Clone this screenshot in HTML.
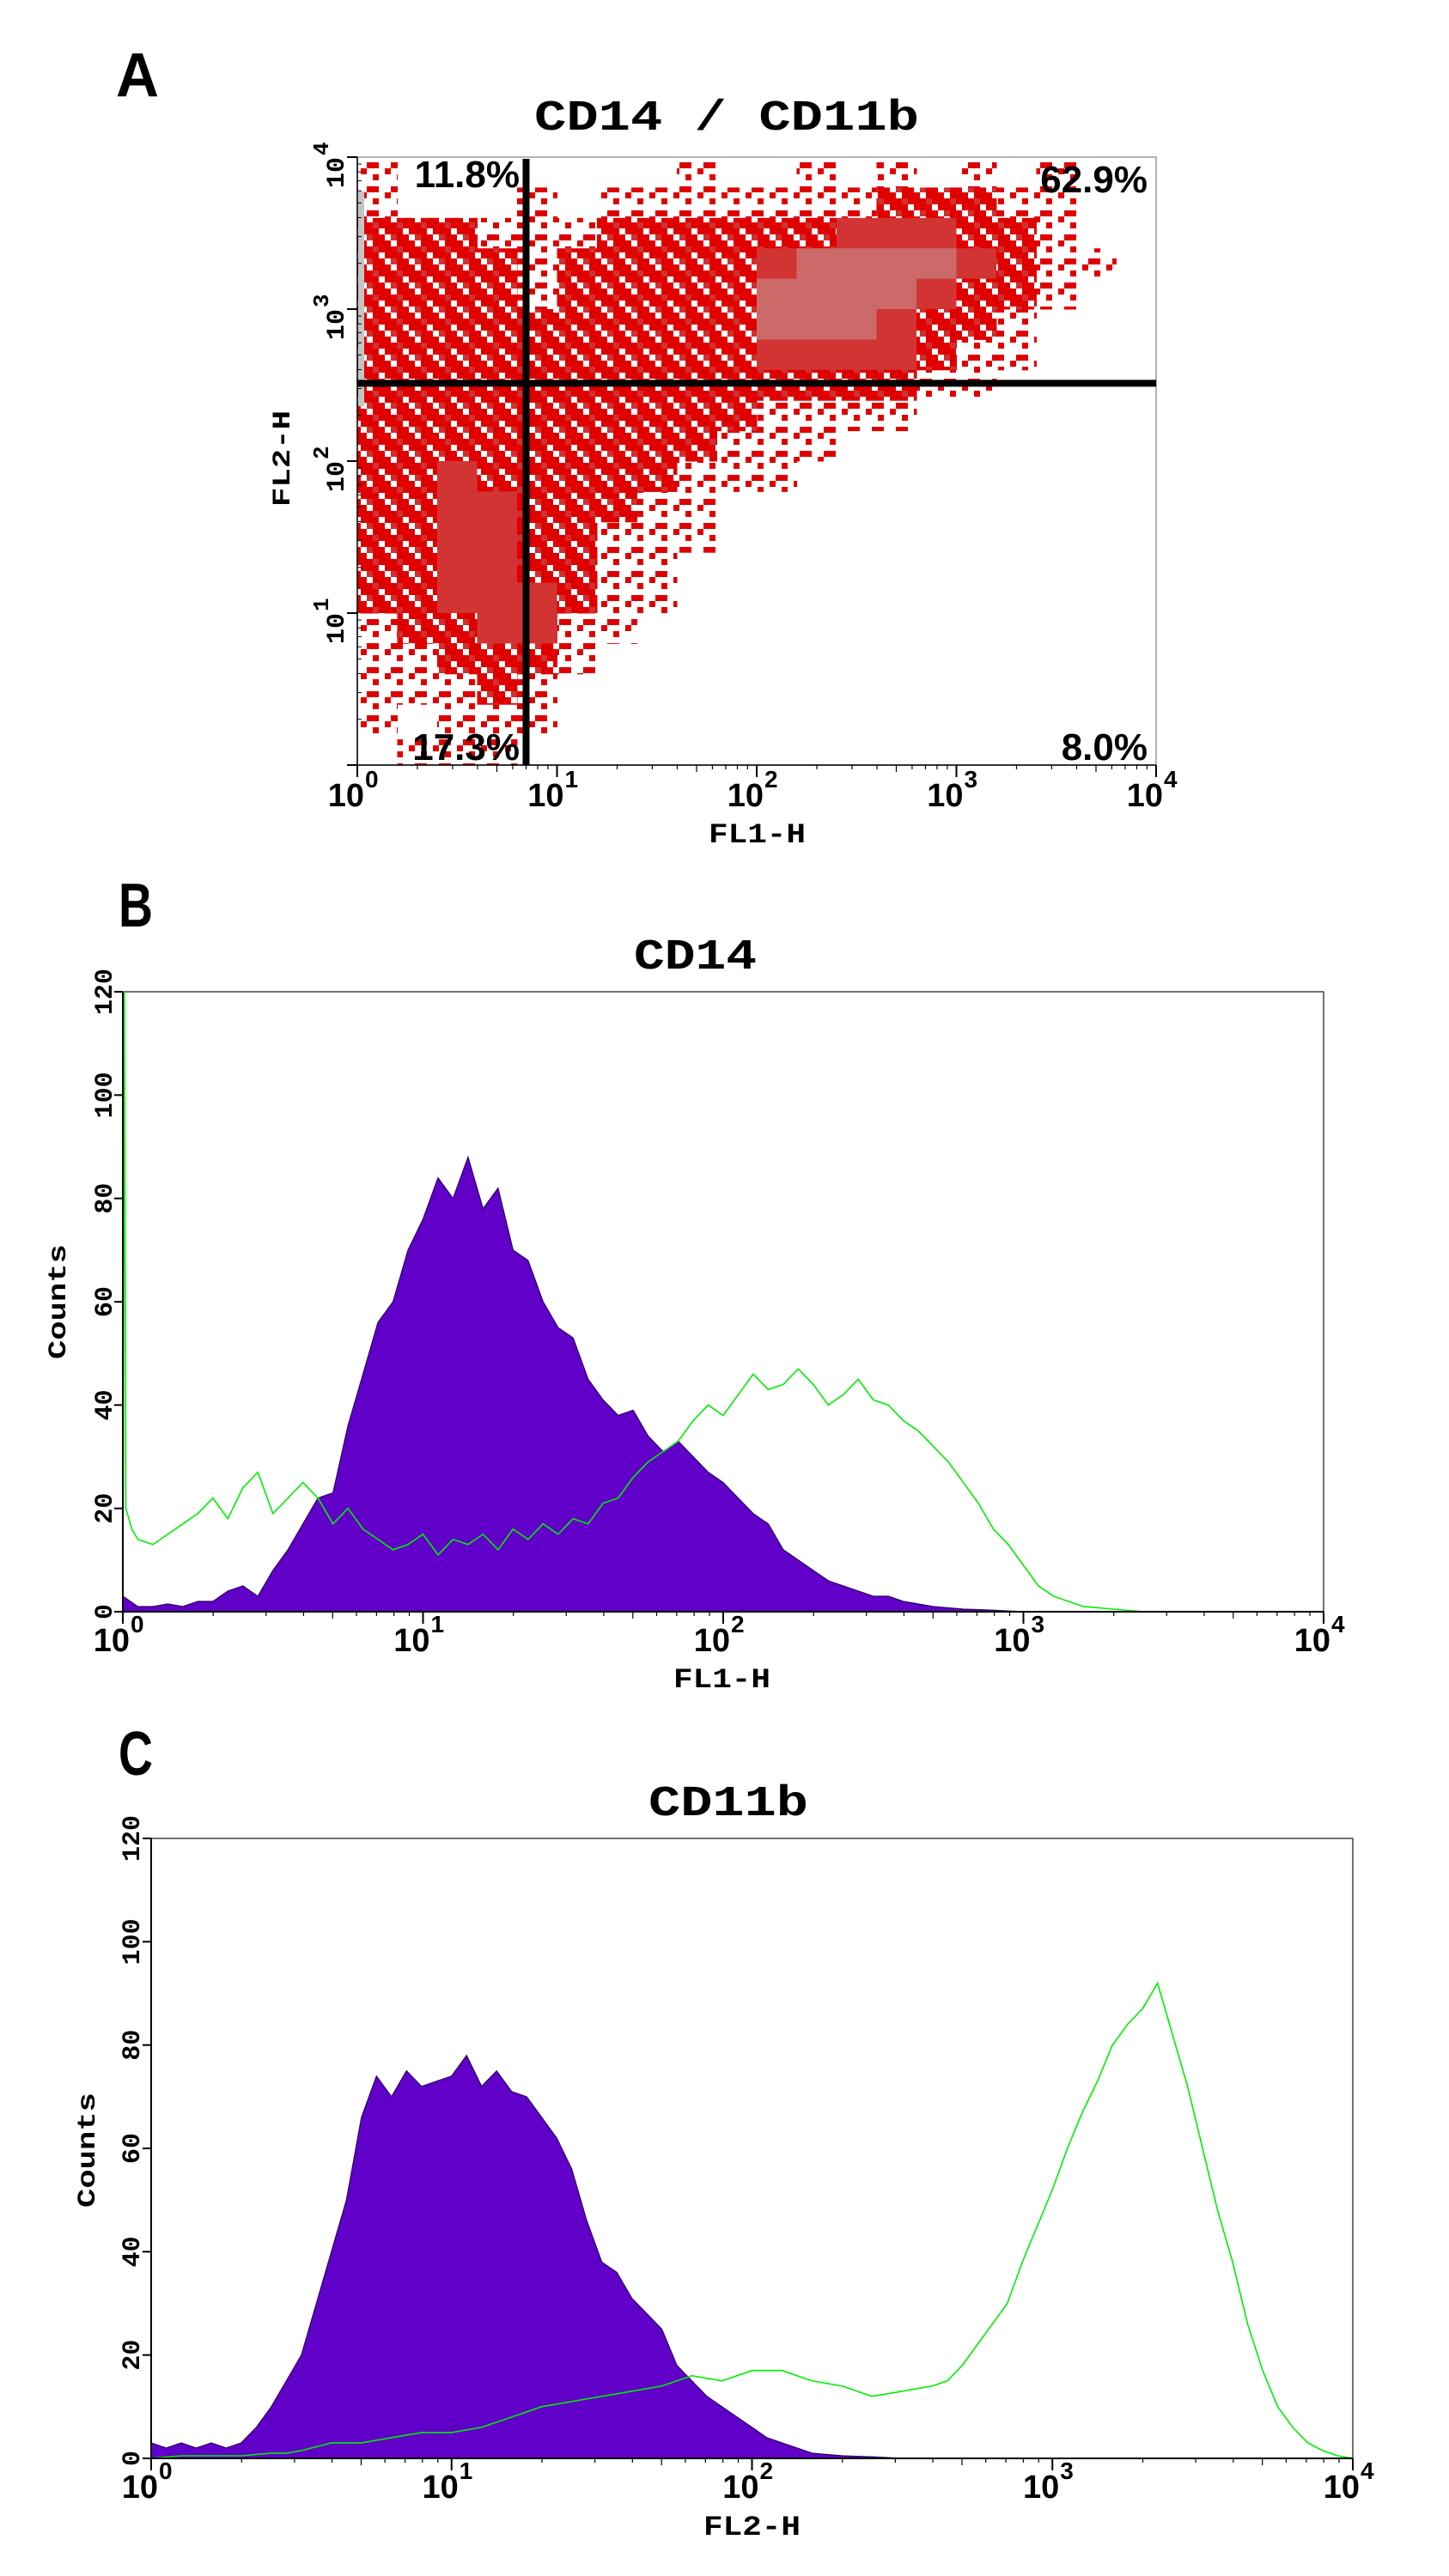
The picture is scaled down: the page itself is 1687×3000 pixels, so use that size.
<!DOCTYPE html>
<html><head><meta charset="utf-8"><title>CD14 / CD11b flow cytometry</title>
<style>html,body{margin:0;padding:0;background:#fff}svg{display:block}
.mono{font-family:"Liberation Mono",monospace;font-weight:bold}
.sans{font-family:"Liberation Sans Narrow","Liberation Sans",sans-serif;font-weight:bold}</style></head>
<body>
<svg id="fig" xmlns="http://www.w3.org/2000/svg" width="1687" height="3000" viewBox="0 0 1687 3000">
<defs>
<pattern id="p1" width="28" height="28" patternUnits="userSpaceOnUse"><rect x="0" y="0" width="7" height="7" fill="#e00000"/><rect x="14" y="7" width="7" height="7" fill="#e00000"/><rect x="7" y="21" width="14" height="7" fill="#e00000"/></pattern>
<pattern id="p2" width="28" height="28" patternUnits="userSpaceOnUse"><rect width="28" height="28" fill="#e00000"/><rect x="7" y="0" width="7" height="7" fill="#fff"/><rect x="21" y="14" width="7" height="7" fill="#fff"/><rect x="0" y="21" width="7" height="7" fill="#fff"/><rect x="14" y="7" width="7" height="7" fill="#d03030"/><rect x="7" y="21" width="7" height="7" fill="#d03030"/></pattern>
</defs>
<rect width="1687" height="3000" fill="#fff"/>
<text class="sans" x="135" y="112" font-size="72" textLength="50" lengthAdjust="spacingAndGlyphs">A</text>
<text class="mono" x="622" y="151" font-size="50" textLength="448" lengthAdjust="spacingAndGlyphs">CD14 / CD11b</text>
<text class="sans" x="138" y="1079" font-size="72" textLength="40" lengthAdjust="spacingAndGlyphs">B</text>
<text class="mono" x="738" y="1128" font-size="50" textLength="143" lengthAdjust="spacingAndGlyphs">CD14</text>
<text class="sans" x="138" y="2067" font-size="72" textLength="40" lengthAdjust="spacingAndGlyphs">C</text>
<text class="mono" x="755" y="2114" font-size="50" textLength="186" lengthAdjust="spacingAndGlyphs">CD11b</text>
<g id="gA"></g><g id="gB"></g><g id="gC"></g>
</svg>
<script>
// ---- Panel A density grid (rows top->bottom = FL2 log 4 -> 0, cols = FL1 log 0 -> 4), levels 0..4
const densityRows = [
"10000000100101010100",
"10001011111112221100",
"22211122222233322100",
"22221222223444432110",
"22221222224444322100",
"22222222224443221000",
"22222222223333211000",
"22222222222222110000",
"22222222221111000000",
"22222222211100000000",
"22322222111000000000",
"22332221100000000000",
"22332211100000000000",
"22332211000000000000",
"22333211000000000000",
"12233110000000000000",
"11222100000000000000",
"11121000000000000000",
"10111000000000000000",
"01110000000000000000"
];
const gateX = 7;     // FL1 quadrant gate
const gateY = 325;   // FL2 quadrant gate
const quadLabels = ["11.8%","62.9%","17.3%","8.0%"];
const decadeTicks = [0,1,2,3,4];
const countTicks = [0,20,40,60,80,100,120];

// ---- Panel B (CD14) histograms, x in log decades
const bIsoX = [0,0.05,0.1,0.15,0.2,0.25,0.3,0.35,0.4,0.45,0.5,0.55,0.6,0.65,0.7,0.75,0.8,0.85,0.9,0.95,1.0,1.05,1.1,1.15,1.2,1.25,1.3,1.35,1.4,1.45,1.5,1.55,1.6,1.65,1.7,1.75,1.8,1.85,1.9,1.95,2.0,2.05,2.1,2.15,2.2,2.25,2.3,2.35,2.4,2.45,2.5,2.55,2.6,2.65,2.7,2.8,2.9,3.0];
const bIsoY = [3,1,1,1.5,1,2,2,4,5,3,8,12,17,22,23,36,46,56,60,70,76,84,80,88,78,82,70,68,60,55,53,45,41,38,39,34,31,33,30,27,25,22,19,17,12,10,8,6,5,4,3,3,2,1.5,1,0.5,0.3,0];
const bStainX = [0,0.005,0.01,0.03,0.05,0.1,0.15,0.2,0.25,0.3,0.35,0.4,0.45,0.5,0.55,0.6,0.65,0.7,0.75,0.8,0.85,0.9,0.95,1.0,1.05,1.1,1.15,1.2,1.25,1.3,1.35,1.4,1.45,1.5,1.55,1.6,1.65,1.7,1.75,1.8,1.85,1.9,1.95,2.0,2.05,2.1,2.15,2.2,2.25,2.3,2.35,2.4,2.45,2.5,2.55,2.6,2.65,2.7,2.75,2.8,2.85,2.9,2.95,3.0,3.05,3.1,3.2,3.3,3.4,4.0];
const bStainY = [0,120,20,16,14,13,15,17,19,22,18,24,27,19,22,25,22,17,20,16,14,12,13,15,11,14,13,15,12,16,14,17,15,18,17,21,22,26,29,31,33,37,40,38,42,46,43,44,47,44,40,42,45,41,40,37,35,32,29,25,21,16,13,9,5,3,1,0.5,0,0];

// ---- Panel C (CD11b) histograms
const cIsoX = [0,0.05,0.1,0.15,0.2,0.25,0.3,0.35,0.4,0.45,0.5,0.55,0.6,0.65,0.7,0.75,0.8,0.85,0.9,0.95,1.0,1.05,1.1,1.15,1.2,1.25,1.3,1.35,1.4,1.45,1.5,1.55,1.6,1.65,1.7,1.75,1.8,1.85,1.9,1.95,2.0,2.05,2.1,2.15,2.2,2.3,2.4,2.5];
const cIsoY = [3,2,3,2,3,2,3,6,10,15,20,30,40,50,66,74,70,75,72,73,74,78,72,75,71,70,66,62,56,46,38,36,31,28,25,18,15,12,10,8,6,4,3,2,1,0.5,0.3,0];
const cStainX = [0,0.1,0.2,0.3,0.4,0.45,0.5,0.6,0.7,0.8,0.9,1.0,1.1,1.2,1.3,1.4,1.5,1.6,1.7,1.8,1.9,2.0,2.1,2.2,2.3,2.4,2.5,2.6,2.65,2.7,2.75,2.8,2.85,2.9,2.95,3.0,3.05,3.1,3.15,3.2,3.25,3.3,3.35,3.4,3.45,3.5,3.55,3.6,3.65,3.7,3.75,3.8,3.85,3.9,3.95,4.0];
const cStainY = [0,0.5,0.5,0.5,1,1,1.5,3,3,4,5,5,6,8,10,11,12,13,14,16,15,17,17,15,14,12,13,14,15,18,22,26,30,38,45,52,60,67,73,80,84,87,92,82,72,60,48,38,26,17,10,6,3,1.5,0.5,0];

const NS = "http://www.w3.org/2000/svg";
function mk(tag, attrs, parent){ const e=document.createElementNS(NS,tag); for(const k in attrs) e.setAttribute(k,attrs[k]); parent.appendChild(e); return e; }

function logTicksX(g, x0, x1, yb, lblY, name){
  const sx = d => x0 + (x1-x0)*d/4;
  for(let d=0; d<4; d++) for(let m=2;m<10;m++){
    const x = sx(d+Math.log10(m));
    const t = mk("line",{x1:x,x2:x,y1:yb,y2:yb+(m==5?8:5),stroke:"#000","stroke-width":1.2},g);
    
    
  }
  decadeTicks.forEach(d=>{
    const x = sx(d);
    const t = mk("line",{x1:x,x2:x,y1:yb,y2:yb+14,stroke:"#000","stroke-width":2},g);
    
    
    const tx = mk("text",{x:x+8,y:lblY,"font-size":38,"text-anchor":"end",class:"sans"},g);
    tx.textContent="10";
    
    
    const sp = mk("text",{x:x+9,y:lblY-22,"font-size":28,class:"sans"},g);
    sp.textContent=String(d);
    
    
  });
}

// ---------- Panel A ----------
(function(){
  const g = document.getElementById("gA");
  const X0=416, X1=1346, Y0=183, Y1=891;
  const sx = v => X0 + (X1-X0)*Math.log10(v)/4;
  const sy = v => Y1 - (Y1-Y0)*Math.log10(v)/4;
  const fr = mk("rect",{x:X0,y:Y0,width:X1-X0,height:Y1-Y0,fill:"none",stroke:"#999","stroke-width":1.5},g);
  
  
  const nr = densityRows.length, nc = densityRows[0].length;
  const cw=(X1-X0)/nc, ch=(Y1-Y0)/nr;
  const fills = {"1":"url(#p1)","2":"url(#p2)","3":"#d23434","4":"#cc6a6a"};
  densityRows.forEach((row,r)=>{
    for(let c=0;c<nc;c++){
      const lv=row[c]; if(lv==="0") continue;
      const cell = mk("rect",{x:X0+c*cw,y:Y0+r*ch,width:cw+0.5,height:ch+0.5,fill:fills[lv]},g);
      
      
    }
  });
  const strip = mk("rect",{x:X0+1,y:Y0+40,width:7,height:250,fill:"#c4c4c4"},g);
  
  
  const vl = mk("line",{x1:sx(gateX),x2:sx(gateX),y1:Y0+2,y2:Y1,stroke:"#000","stroke-width":8},g);
  
  
  const hl = mk("line",{x1:X0,x2:X1,y1:sy(gateY),y2:sy(gateY),stroke:"#000","stroke-width":8},g);
  
  
  const qpos=[[605,218,"end"],[1336,224,"end"],[605,885,"end"],[1336,885,"end"]];
  quadLabels.forEach((s,i)=>{
    const t = mk("text",{x:qpos[i][0],y:qpos[i][1],"font-size":44,"text-anchor":qpos[i][2],class:"sans"},g);
    t.textContent=s;
    
    
  });
  const ax = mk("path",{d:`M${X0} ${Y0} V${Y1} H${X1}`,stroke:"#000","stroke-width":1.5,fill:"none"},g);
  
  
  logTicksX(g,X0,X1,Y1,939,'scatter');
  for(let d=0; d<4; d++) for(let m=2;m<10;m++){
    const y = Y1-(Y1-Y0)*(d+Math.log10(m))/4;
    const t = mk("line",{x1:X0,x2:X0+5,y1:y,y2:y,stroke:"#000","stroke-width":1},g);
    
    
  }
  decadeTicks.forEach(d=>{
    const y = Y1-(Y1-Y0)*d/4;
    const t = mk("line",{x1:X0-12,x2:X0,y1:y,y2:y,stroke:"#000","stroke-width":2},g);
    
    
    if(d===0) return;
    const tx = mk("text",{x:0,y:0,"font-size":30,class:"mono","font-weight":"normal",transform:`translate(400,${y+36}) rotate(-90)`},g);
    tx.textContent="10";
    
    
    const sp = mk("text",{x:0,y:0,"font-size":26,class:"mono","font-weight":"normal",transform:`translate(382,${y-2}) rotate(-90)`},g);
    sp.textContent=String(d);
    
    
  });
  const xt = mk("text",{x:825,y:981,"font-size":32,class:"mono",textLength:113,lengthAdjust:"spacingAndGlyphs"},g);
  xt.textContent="FL1-H";
  
  
  const yt = mk("text",{x:0,y:0,"font-size":30,class:"mono",textLength:112,lengthAdjust:"spacingAndGlyphs",transform:"translate(337,590) rotate(-90)"},g);
  yt.textContent="FL2-H";
  
  
})();

// ---------- Histograms ----------
function histPanel(id, X0, X1, Y0, Y1, isoX, isoY, stX, stY, xTitle, xtX, xtY, lblY, cntX, cntY, ylabX, name){
  const g = document.getElementById(id);
  const sx = d => X0 + (X1-X0)*d/4;
  const sy = v => Y1 - (Y1-Y0)*v/120;
  const fr = mk("rect",{x:X0,y:Y0,width:X1-X0,height:Y1-Y0,fill:"none",stroke:"#444","stroke-width":1.5},g);
  
  
  let d = `M${sx(isoX[0])} ${sy(0)}`;
  isoX.forEach((x,i)=>{ d += ` L${sx(x)} ${sy(isoY[i])}`; });
  d += ` L${sx(isoX[isoX.length-1])} ${sy(0)} Z`;
  const area = mk("path",{d:d,fill:"#6000c8",stroke:"#2a0060","stroke-width":1.2},g);
  
  
  let p = "";
  stX.forEach((x,i)=>{ p += (i?" L":"M")+sx(x)+" "+sy(stY[i]); });
  const ln = mk("path",{d:p,fill:"none",stroke:"#00ee00","stroke-width":1.6},g);
  
  
  const ax = mk("path",{d:`M${X0} ${Y0} V${Y1} H${X1}`,stroke:"#000","stroke-width":2,fill:"none"},g);
  
  
  logTicksX(g,X0,X1,Y1,lblY,name);
  countTicks.forEach(v=>{
    const y=sy(v);
    const t = mk("line",{x1:X0-10,x2:X0,y1:y,y2:y,stroke:"#000","stroke-width":2},g);
    
    
    const s=String(v);
    const tx = mk("text",{x:0,y:0,"font-size":30,class:"mono","font-weight":"normal","text-anchor":"middle",transform:`translate(${ylabX},${y}) rotate(-90)`},g);
    tx.textContent=s;
    
    
  });
  const xt = mk("text",{x:xtX,y:xtY,"font-size":32,class:"mono",textLength:113,lengthAdjust:"spacingAndGlyphs"},g);
  xt.textContent=xTitle;
  
  
  const ct = mk("text",{x:0,y:0,"font-size":30,class:"mono",textLength:134,lengthAdjust:"spacingAndGlyphs",transform:`translate(${cntX},${cntY}) rotate(-90)`},g);
  ct.textContent="Counts";
  
  
}
histPanel("gB",143,1541,1155,1877,bIsoX,bIsoY,bStainX,bStainY,"FL1-H",784,1965,1923,76,1583,130,"cd14");
histPanel("gC",176,1575,2141,2863,cIsoX,cIsoY,cStainX,cStainY,"FL2-H",819,2952,2909,110,2571,162,"cd11b");
</script>
</body></html>
